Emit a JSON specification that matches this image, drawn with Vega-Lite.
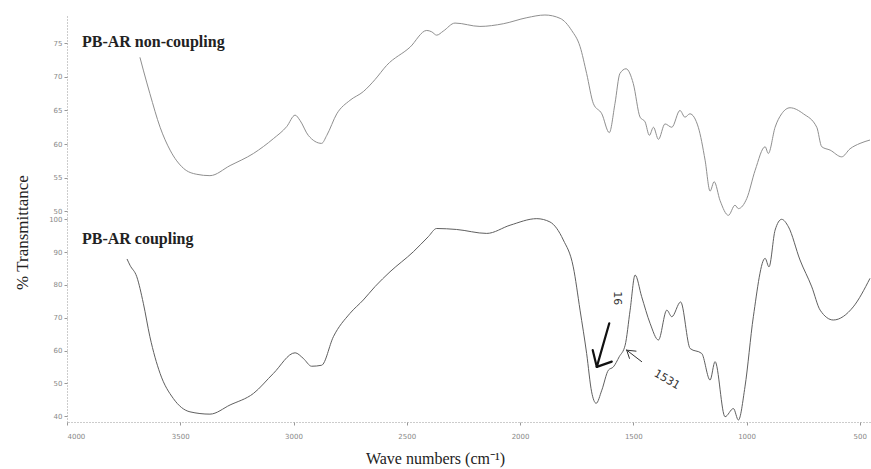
{
  "$schema": "https://vega.github.io/schema/vega-lite/v6.json",
  "width": 803,
  "height": 407,
  "autosize": {"type": "none"},
  "padding": {"left": 67, "top": 15, "right": 1, "bottom": 47},
  "background": "white",
  "config": {"view": {"stroke": null}},
  "datasets": {
    "top": [
      {"w": 3678, "v": 72.9}, {"w": 3663, "v": 71.0}, {"w": 3634, "v": 67.5}, {"w": 3589, "v": 62.5},
      {"w": 3545, "v": 59.1}, {"w": 3486, "v": 56.4}, {"w": 3427, "v": 55.5}, {"w": 3369, "v": 55.3},
      {"w": 3280, "v": 56.8}, {"w": 3177, "v": 58.6}, {"w": 3089, "v": 60.8}, {"w": 3030, "v": 62.6},
      {"w": 2993, "v": 64.3}, {"w": 2971, "v": 63.5}, {"w": 2935, "v": 61.3}, {"w": 2876, "v": 60.1},
      {"w": 2853, "v": 61.3}, {"w": 2809, "v": 64.5}, {"w": 2751, "v": 66.5}, {"w": 2692, "v": 67.8},
      {"w": 2640, "v": 69.6}, {"w": 2589, "v": 71.7}, {"w": 2486, "v": 74.4}, {"w": 2412, "v": 76.9},
      {"w": 2390, "v": 76.7}, {"w": 2368, "v": 76.2}, {"w": 2339, "v": 76.8}, {"w": 2287, "v": 78.0},
      {"w": 2177, "v": 77.5}, {"w": 2074, "v": 77.9}, {"w": 1970, "v": 78.8}, {"w": 1890, "v": 79.2},
      {"w": 1823, "v": 78.7}, {"w": 1772, "v": 76.9}, {"w": 1735, "v": 74.5}, {"w": 1706, "v": 70.5},
      {"w": 1676, "v": 66.0}, {"w": 1639, "v": 64.5}, {"w": 1606, "v": 61.7}, {"w": 1581, "v": 66.0},
      {"w": 1559, "v": 70.5}, {"w": 1532, "v": 71.2}, {"w": 1500, "v": 69.0}, {"w": 1470, "v": 64.0},
      {"w": 1448, "v": 63.3}, {"w": 1429, "v": 61.3}, {"w": 1411, "v": 62.5}, {"w": 1389, "v": 60.7},
      {"w": 1360, "v": 63.0}, {"w": 1330, "v": 62.5}, {"w": 1294, "v": 65.0}, {"w": 1272, "v": 64.0},
      {"w": 1250, "v": 64.5}, {"w": 1213, "v": 62.5}, {"w": 1183, "v": 57.6}, {"w": 1161, "v": 53.0},
      {"w": 1143, "v": 54.4}, {"w": 1117, "v": 51.6}, {"w": 1080, "v": 49.4}, {"w": 1051, "v": 50.9},
      {"w": 1036, "v": 50.4}, {"w": 999, "v": 51.9}, {"w": 962, "v": 56.1}, {"w": 918, "v": 59.6},
      {"w": 904, "v": 58.6}, {"w": 874, "v": 62.5}, {"w": 845, "v": 64.5}, {"w": 808, "v": 65.4},
      {"w": 749, "v": 64.5}, {"w": 690, "v": 62.5}, {"w": 668, "v": 59.6}, {"w": 631, "v": 59.1},
      {"w": 580, "v": 58.1}, {"w": 543, "v": 59.3}, {"w": 499, "v": 60.1}, {"w": 455, "v": 60.6}
    ],
    "bottom": [
      {"w": 3735, "v": 87.9}, {"w": 3722, "v": 86.0}, {"w": 3692, "v": 82.5}, {"w": 3663, "v": 74.4},
      {"w": 3634, "v": 64.2}, {"w": 3589, "v": 53.0}, {"w": 3531, "v": 45.4}, {"w": 3457, "v": 41.3},
      {"w": 3369, "v": 40.6}, {"w": 3280, "v": 43.4}, {"w": 3177, "v": 46.9}, {"w": 3089, "v": 53.0},
      {"w": 2993, "v": 59.3}, {"w": 2957, "v": 57.6}, {"w": 2920, "v": 55.2}, {"w": 2876, "v": 55.5},
      {"w": 2824, "v": 64.2}, {"w": 2751, "v": 71.3}, {"w": 2692, "v": 75.4}, {"w": 2640, "v": 79.5},
      {"w": 2574, "v": 84.0}, {"w": 2471, "v": 90.1}, {"w": 2405, "v": 94.7}, {"w": 2368, "v": 97.2},
      {"w": 2280, "v": 96.9}, {"w": 2147, "v": 95.7}, {"w": 2044, "v": 98.2}, {"w": 1926, "v": 100.2},
      {"w": 1868, "v": 99.2}, {"w": 1809, "v": 93.7}, {"w": 1765, "v": 85.5}, {"w": 1735, "v": 72.3},
      {"w": 1706, "v": 59.1}, {"w": 1684, "v": 47.4}, {"w": 1664, "v": 43.9}, {"w": 1639, "v": 47.9},
      {"w": 1610, "v": 54.0}, {"w": 1588, "v": 55.0}, {"w": 1562, "v": 58.1}, {"w": 1536, "v": 61.6},
      {"w": 1514, "v": 72.3}, {"w": 1492, "v": 83.0}, {"w": 1463, "v": 76.4}, {"w": 1426, "v": 68.3},
      {"w": 1389, "v": 63.2}, {"w": 1352, "v": 72.3}, {"w": 1330, "v": 70.3}, {"w": 1291, "v": 74.8},
      {"w": 1249, "v": 60.6}, {"w": 1198, "v": 59.1}, {"w": 1161, "v": 51.0}, {"w": 1139, "v": 56.6},
      {"w": 1095, "v": 39.8}, {"w": 1058, "v": 42.3}, {"w": 1036, "v": 38.8}, {"w": 1007, "v": 48.9},
      {"w": 970, "v": 70.3}, {"w": 918, "v": 88.1}, {"w": 901, "v": 85.5}, {"w": 874, "v": 96.7},
      {"w": 845, "v": 100.0}, {"w": 815, "v": 97.7}, {"w": 764, "v": 87.6}, {"w": 712, "v": 79.4},
      {"w": 675, "v": 72.3}, {"w": 617, "v": 69.3}, {"w": 529, "v": 73.3}, {"w": 455, "v": 82.0}
    ],
    "bigArrow": [
      {"w": 1606, "v": 68.3, "w2": 1661, "v2": 55.0},
      {"w": 1679, "v": 60.1, "w2": 1661, "v2": 55.0},
      {"w": 1595, "v": 56.6, "w2": 1661, "v2": 55.0}
    ],
    "smallArrow": [
      {"w": 1463, "v": 56.6, "w2": 1529, "v2": 60.1},
      {"w": 1488, "v": 59.8, "w2": 1529, "v2": 60.1},
      {"w": 1517, "v": 57.6, "w2": 1529, "v2": 60.1}
    ]
  },
  "layer": [
    {
      "layer": [
        {
          "data": {"name": "top"},
          "mark": {"type": "line", "color": "#8f8f8f", "strokeWidth": 1, "interpolate": "monotone"},
          "encoding": {
            "x": {
              "field": "w", "type": "quantitative",
              "scale": {"domain": [455, 4000], "reverse": true, "nice": false, "zero": false},
              "axis": {
                "values": [4000, 3500, 3000, 2500, 2000, 1500, 1000, 500],
                "format": "d", "grid": false,
                "title": "Wave numbers (cm⁻¹)",
                "titleFont": "Liberation Serif", "titleFontSize": 16, "titleFontWeight": "normal",
                "titleColor": "#222", "titleX": 368, "titleY": 36, "titleBaseline": "middle",
                "labelFont": "DejaVu Sans", "labelFontSize": 7, "labelColor": "#888",
                "labelPadding": 7, "tickSize": 3, "tickColor": "#999",
                "domainColor": "#999", "domainDash": [1, 2]
              }
            },
            "y": {
              "field": "v", "type": "quantitative",
              "scale": {"domain": [49, 79.2], "range": [203, 0], "nice": false, "zero": false},
              "axis": {
                "orient": "left", "values": [50, 55, 60, 65, 70, 75], "grid": false,
                "title": "% Transmittance",
                "titleFont": "Liberation Serif", "titleFontSize": 17, "titleFontWeight": "normal",
                "titleColor": "#222", "titleX": -45, "titleY": 217, "titleAngle": -90,
                "titleAlign": "center", "titleBaseline": "middle",
                "labelFont": "DejaVu Sans", "labelFontSize": 7, "labelColor": "#888",
                "tickSize": 3, "tickColor": "#999", "domainColor": "#999", "domainDash": [1, 2]
              }
            }
          }
        },
        {
          "data": {"values": [{"label": "PB-AR non-coupling", "w": 3934, "v": 75.2}]},
          "mark": {"type": "text", "align": "left", "baseline": "middle", "font": "Liberation Serif", "fontSize": 16, "fontWeight": "bold", "color": "#222"},
          "encoding": {
            "x": {"field": "w", "type": "quantitative"},
            "y": {"field": "v", "type": "quantitative"},
            "text": {"field": "label"}
          }
        }
      ]
    },
    {
      "layer": [
        {
          "data": {"name": "bottom"},
          "mark": {"type": "line", "color": "#5f5f5f", "strokeWidth": 1, "interpolate": "monotone"},
          "encoding": {
            "x": {"field": "w", "type": "quantitative"},
            "y": {
              "field": "v", "type": "quantitative",
              "scale": {"domain": [38.2, 100.4], "range": [407, 203], "nice": false, "zero": false},
              "axis": {
                "orient": "left", "values": [40, 50, 60, 70, 80, 90, 100], "grid": false, "title": null,
                "labelFont": "DejaVu Sans", "labelFontSize": 7, "labelColor": "#888",
                "tickSize": 3, "tickColor": "#999", "domainColor": "#999", "domainDash": [1, 2]
              }
            }
          }
        },
        {
          "data": {"values": [{"label": "PB-AR coupling", "w": 3934, "v": 94.0}]},
          "mark": {"type": "text", "align": "left", "baseline": "middle", "font": "Liberation Serif", "fontSize": 16, "fontWeight": "bold", "color": "#222"},
          "encoding": {
            "x": {"field": "w", "type": "quantitative"},
            "y": {"field": "v", "type": "quantitative"},
            "text": {"field": "label"}
          }
        },
        {
          "data": {"name": "bigArrow"},
          "mark": {"type": "rule", "color": "#111", "strokeWidth": 2.2, "strokeCap": "round"},
          "encoding": {
            "x": {"field": "w", "type": "quantitative"},
            "y": {"field": "v", "type": "quantitative"},
            "x2": {"field": "w2"},
            "y2": {"field": "v2"}
          }
        },
        {
          "data": {"name": "smallArrow"},
          "mark": {"type": "rule", "color": "#333", "strokeWidth": 1, "strokeCap": "round"},
          "encoding": {
            "x": {"field": "w", "type": "quantitative"},
            "y": {"field": "v", "type": "quantitative"},
            "x2": {"field": "w2"},
            "y2": {"field": "v2"}
          }
        },
        {
          "data": {"values": [{"label": "1531", "w": 1352, "v": 51.0}]},
          "mark": {"type": "text", "align": "center", "baseline": "middle", "font": "DejaVu Sans", "fontSize": 11, "angle": 30, "color": "#333"},
          "encoding": {
            "x": {"field": "w", "type": "quantitative"},
            "y": {"field": "v", "type": "quantitative"},
            "text": {"field": "label"}
          }
        },
        {
          "data": {"values": [{"label": "16", "w": 1573, "v": 75.9}]},
          "mark": {"type": "text", "align": "center", "baseline": "middle", "font": "DejaVu Sans", "fontSize": 11, "angle": 90, "color": "#333"},
          "encoding": {
            "x": {"field": "w", "type": "quantitative"},
            "y": {"field": "v", "type": "quantitative"},
            "text": {"field": "label"}
          }
        }
      ]
    }
  ],
  "resolve": {"scale": {"y": "independent"}, "axis": {"y": "independent"}}
}
